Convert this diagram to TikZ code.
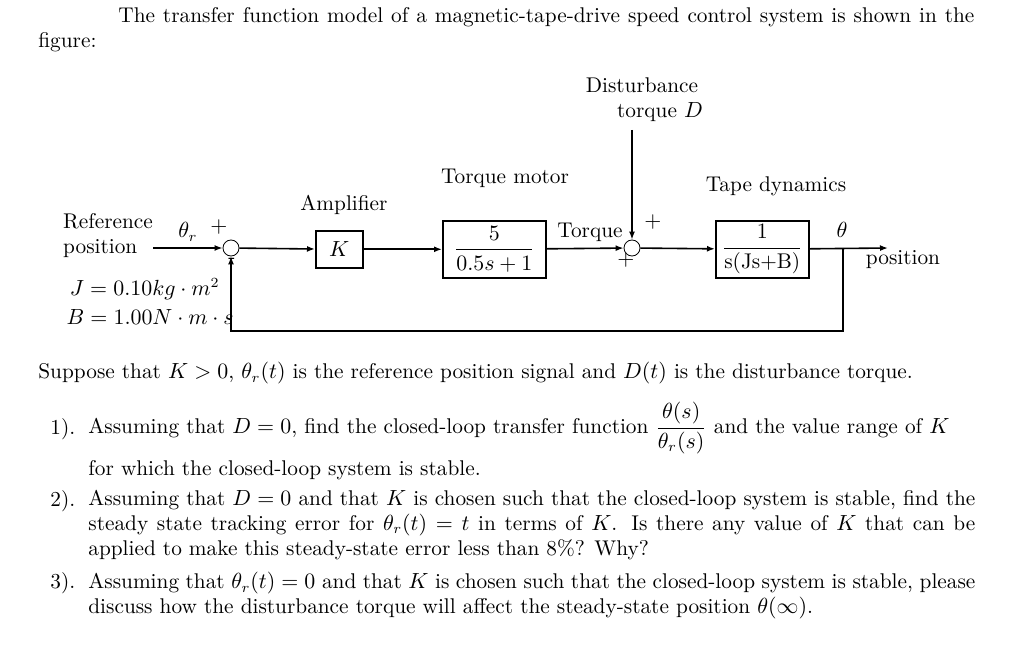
\documentclass[tikz,border=0pt]{standalone}
\usepackage{amsmath}
\usetikzlibrary{arrows.meta}
\begin{document}
\begin{tikzpicture}[x=0.5pt,y=-0.5pt,
  every node/.append style={font=\fontsize{10.65}{12.5}\selectfont},
  blk/.style={draw,thick,inner sep=0pt,anchor=north west},
  sumc/.style={draw,circle,minimum size=8pt,inner sep=0pt},
  sig/.style={-{Latex[length=4pt,width=3pt]}},
  lbl/.style={inner sep=0pt},
  para/.style={inner sep=0pt,anchor=north west,align=justify}]
\useasboundingbox (0,0) rectangle (1024,647);
% top text
\node[para,text width=468pt] (intro) at (38,7) {\hspace*{40pt}The transfer function model of a magnetic-tape-drive speed control system is shown in the figure:};
% blocks
\node[sumc] (s1) at (231,248) {};
\node[blk,minimum width=23.5pt,minimum height=18.5pt] (amp) at (315,230) {};
\node at (amp.center) {$K$};
\node[blk,minimum width=51.5pt,minimum height=28.5pt] (mot) at (442,220) {};
\node at (mot.center) {$\dfrac{5}{0.5s+1}$};
\node[sumc] (s2) at (632,248) {};
\node[blk,minimum width=46.5pt,minimum height=28.5pt] (tape) at (715,220) {};
\node at (tape.center) {$\dfrac{1}{\text{s(Js+B)}}$};
\coordinate (in) at (153,248);
\coordinate (out) at (888,248);
\coordinate (br) at (843,248);
\coordinate (fb1) at (843,331);
\coordinate (fb2) at (231,331);
\coordinate (dtop) at (632,130);
\draw[thick,sig] (in) -- (s1);
\draw[thick,sig] (s1) -- (amp);
\draw[thick,sig] (amp) -- (mot);
\draw[thick,sig] (mot) -- (s2);
\draw[thick,sig] (s2) -- (tape);
\draw[thick,sig] (tape) -- (out);
\draw[thick,sig] (br) -- (fb1) -- (fb2) -- (s1);
\draw[thick,sig] (dtop) -- (s2);
% labels
\node[lbl,align=left] (ref) at (108,236) {Reference\\position};
\node[lbl] (thr) at (188,232) {$\theta_r$};
\node[lbl] (p1) at (219,227) {$+$};
\node[lbl] (m1) at (232,261) {-};
\node[lbl,anchor=east] (jl) at (220,289) {$J=0.10kg\cdot m^2$};
\node[lbl,anchor=east] (bl) at (234,317) {$B=1.00N\cdot m\cdot s$};
\node[lbl] (ampl) at (344,205) {Amplifier};
\node[lbl] (motl) at (505,178) {Torque motor};
\node[lbl] (tq) at (590,232) {Torque};
\node[lbl] (p2) at (653,222) {$+$};
\node[lbl] (p3) at (626,260) {$+$};
\node[lbl,align=center] (dl) at (642,100) {Disturbance\\\hspace*{18pt}torque $D$};
\node[lbl] (tapel) at (776,186) {Tape dynamics};
\node[lbl] (th) at (842,230) {$\theta$};
\node[lbl] (pos) at (903,260) {position};
% question text
\node[para,text width=468pt] (sup) at (38,362) {Suppose that $K>0$, $\theta_r(t)$ is the reference position signal and $D(t)$ is the disturbance torque.};
\node[lbl,anchor=north west] (n1) at (50,418) {1).};
\node[para,text width=443.5pt] (q1) at (88,402) {Assuming that $D=0$, find the closed-loop transfer function $\dfrac{\theta(s)}{\theta_r(s)}$ and the value range of $K$\\[2pt] for which the closed-loop system is stable.};
\node[lbl,anchor=north west] (n2) at (50,490) {2).};
\node[para,text width=443.5pt] (q2) at (88,490) {Assuming that $D=0$ and that $K$ is chosen such that the closed-loop system is stable, find the steady state tracking error for $\theta_r(t)=t$ in terms of $K$. Is there any value of $K$ that can be applied to make this steady-state error less than 8\%? Why?};
\node[lbl,anchor=north west] (n3) at (50,572) {3).};
\node[para,text width=443.5pt] (q3) at (88,572) {Assuming that $\theta_r(t)=0$ and that $K$ is chosen such that the closed-loop system is stable, please discuss how the disturbance torque will affect the steady-state position $\theta(\infty)$.};
\end{tikzpicture}
\end{document}
